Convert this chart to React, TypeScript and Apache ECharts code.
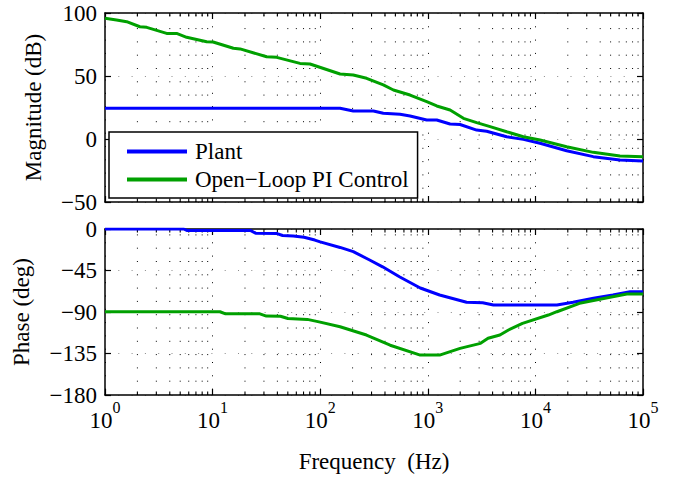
import React, { useEffect, useRef } from 'react';
import * as echarts from 'echarts';

// Frequency (Hz) / value pairs
const plantMag: [number, number][] = [
  [1, 24.4], [153, 24.4], [203, 22.2], [312, 22.2], [386, 20.4], [552, 19.6], [684, 18.3],
  [977, 15.1], [1211, 15.1], [1611, 11.9], [1995, 11.5], [2844, 7.1], [3524, 6.1], [5408, 1.8],
  [7727, -0.3], [11040, -3.4], [19500, -9.3], [34510, -14], [61090, -16.7], [100000, -17.5],
];
const piMag: [number, number][] = [
  [1, 95.8], [1.28, 94.4], [1.59, 93.1], [2.11, 89.1], [2.44, 88.6], [3.74, 83.8], [4.63, 83.8],
  [5.74, 80.7], [8.81, 77.2], [10.1, 77], [15.6, 72], [18, 71.5], [31.8, 65.3], [39.4, 64.8],
  [64.9, 60], [80.4, 59.5], [153, 51.6], [203, 50.8], [270, 48.2], [386, 42.9], [479, 38.9],
  [684, 34.9], [977, 29.6], [1211, 26.2], [1611, 23], [2143, 16.4], [2844, 13], [3793, 9.8],
  [5408, 5.8], [7727, 1.8], [11040, -0.8], [19500, -6.1], [34510, -10.6], [61090, -13.5],
  [100000, -14],
];
const plantPhase: [number, number][] = [
  [1, 0], [5.4, 0], [5.75, -1.5], [22.4, -1.5], [25.1, -4.5], [39.8, -5], [44.7, -7], [56.2, -7.5],
  [70.8, -9], [89.1, -12], [100, -14], [153, -20], [203, -24.6], [288, -33.6], [380, -41],
  [550, -52], [851, -64], [1288, -71.6], [2291, -79.5], [3236, -80], [4074, -82.4], [15850, -82.4],
  [22390, -79.5], [34670, -75], [52480, -71.6], [75860, -68], [100000, -68],
];
const piPhase: [number, number][] = [
  [1, -89.7], [11.7, -89.7], [13.2, -92], [27.5, -92], [31.6, -94.4], [42.7, -94.6], [50.1, -97],
  [75.9, -98], [100, -101], [153, -106], [269, -115], [447, -126], [851, -136.7], [1288, -136.7],
  [1995, -129.4], [3090, -124], [3631, -118.5], [4677, -115], [5623, -109.5], [7586, -102.3],
  [13180, -93.3], [15850, -89.7], [25700, -80.6], [46770, -74.5], [70790, -70.5], [100000, -70.5],
];

const seriesNames = ['Plant', 'Open\u2212Loop PI Control'];
const colors = ['#0000ff', '#00a000'];
const magRange = { min: -50, max: 100, interval: 50 };
const phaseRange = { min: -180, max: 0, interval: 45 };
const freqRange = { min: 1, max: 100000 };

const minorFreqs: number[] = [];
for (let d = 1; d < 100000; d *= 10) {
  for (let m = 2; m <= 9; m++) minorFreqs.push(m * d);
}

const FONT = 'Liberation Serif';
const fmtNum = (v: number) => (v < 0 ? '\u2212' + Math.abs(v) : String(v));

export default function App() {
  const ref = useRef<HTMLDivElement>(null);
  useEffect(() => {
    document.body.style.margin = '0';
    const chart = echarts.init(ref.current!, null, { renderer: 'svg' });
    const axisLine = { show: true, onZero: false, lineStyle: { color: '#000', width: 1.5 } };
    const tick = { show: true, inside: true, length: 6, lineStyle: { color: '#000', width: 1.2 } };
    const vSplit = { show: true, lineStyle: { color: '#000', width: 1, type: [1, 12.3] } };
    const hSplit = { show: true, lineStyle: { color: '#8a8a8a', width: 1, type: [1, 12.3] } };

    const xBase = (grid: number, pos: string, extra: any = {}) => ({
      type: 'log', logBase: 10, gridIndex: grid, position: pos, ...freqRange,
      axisLine, axisTick: tick, axisLabel: { show: false }, splitLine: { show: false }, ...extra,
    });
    const yBase = (grid: number, pos: string, r: any, extra: any = {}) => ({
      type: 'value', gridIndex: grid, position: pos, ...r,
      axisLine, axisTick: tick, axisLabel: { show: false }, splitLine: { show: false }, ...extra,
    });

    const minorGrid = (xi: number, yi: number, y: number) => ({
      type: 'custom', xAxisIndex: xi, yAxisIndex: yi, silent: true, z: 1,
      data: minorFreqs.map((f) => [f, y]),
      renderItem: (params: any, api: any) => {
        const p = api.coord([api.value(0), api.value(1)]);
        const cs = params.coordSys;
        const x = p[0];
        const b = cs.y + cs.height;
        return {
          type: 'group',
          children: [
            { type: 'line', shape: { x1: x, y1: b, x2: x, y2: cs.y }, style: { stroke: '#000', lineWidth: 1, lineDash: [1, 12.3] } },
            { type: 'line', shape: { x1: x, y1: b, x2: x, y2: b - 3.5 }, style: { stroke: '#000', lineWidth: 1.1 } },
            { type: 'line', shape: { x1: x, y1: cs.y, x2: x, y2: cs.y + 3.5 }, style: { stroke: '#000', lineWidth: 1.1 } },
          ],
        };
      },
    });

    const line = (name: string, data: any, color: string, xi: number, yi: number) => ({
      type: 'line', name, data, xAxisIndex: xi, yAxisIndex: yi, showSymbol: false, symbol: 'none', z: 3,
      lineStyle: { color, width: 3 }, itemStyle: { color },
    });

    chart.setOption({
      animation: false,
      backgroundColor: '#fff',
      textStyle: { fontFamily: FONT },
      grid: [
        { left: 105, top: 13, width: 538, height: 189 },
        { left: 105, top: 229, width: 538, height: 166 },
      ],
      legend: {
        data: seriesNames,
        orient: 'vertical',
        left: 109,
        top: 132,
        padding: [8, 9, 7, 18],
        itemGap: 5,
        itemWidth: 60,
        itemHeight: 4,
        icon: 'rect',
        backgroundColor: '#fff',
        borderColor: '#000',
        borderWidth: 1.5,
        textStyle: { fontFamily: FONT, fontSize: 23, color: '#000', padding: [0, 0, 0, 3] },
      },
      xAxis: [
        xBase(0, 'bottom', { splitLine: vSplit }),
        xBase(0, 'top'),
        xBase(1, 'bottom', {
          splitLine: vSplit,
          axisLabel: {
            show: true, margin: 11,
            formatter: (v: number) => `{b|10}{s|${Math.round(Math.log10(v))}}`,
            rich: {
              b: { fontFamily: FONT, fontSize: 23, color: '#000', lineHeight: 26, verticalAlign: 'bottom' },
              s: { fontFamily: FONT, fontSize: 16, color: '#000', lineHeight: 16, verticalAlign: 'bottom', padding: [0, 0, 17, 0] },
            },
          },
          name: 'Frequency  (Hz)', nameLocation: 'middle', nameGap: 55,
          nameTextStyle: { fontFamily: FONT, fontSize: 23, color: '#000' },
        }),
        xBase(1, 'top'),
      ],
      yAxis: [
        yBase(0, 'left', magRange, {
          splitLine: hSplit,
          axisLabel: { show: true, margin: 8, formatter: fmtNum, fontFamily: FONT, fontSize: 23, color: '#000' },
          name: 'Magnitude (dB)', nameLocation: 'middle', nameGap: 60,
          nameTextStyle: { fontFamily: FONT, fontSize: 23, color: '#000' },
        }),
        yBase(0, 'right', magRange),
        yBase(1, 'left', phaseRange, {
          splitLine: hSplit,
          axisLabel: { show: true, margin: 8, formatter: fmtNum, fontFamily: FONT, fontSize: 23, color: '#000' },
          name: 'Phase (deg)', nameLocation: 'middle', nameGap: 72,
          nameTextStyle: { fontFamily: FONT, fontSize: 23, color: '#000' },
        }),
        yBase(1, 'right', phaseRange),
      ],
      series: [
        minorGrid(0, 0, 0),
        minorGrid(2, 2, -90),
        line(seriesNames[0], plantMag, colors[0], 0, 0),
        line(seriesNames[1], piMag, colors[1], 0, 0),
        line(seriesNames[0], plantPhase, colors[0], 2, 2),
        line(seriesNames[1], piPhase, colors[1], 2, 2),
      ],
    });
    return () => chart.dispose();
  }, []);
  return <div ref={ref} style={{ position: 'absolute', left: 0, top: 0, width: 679, height: 481 }} />;
}
